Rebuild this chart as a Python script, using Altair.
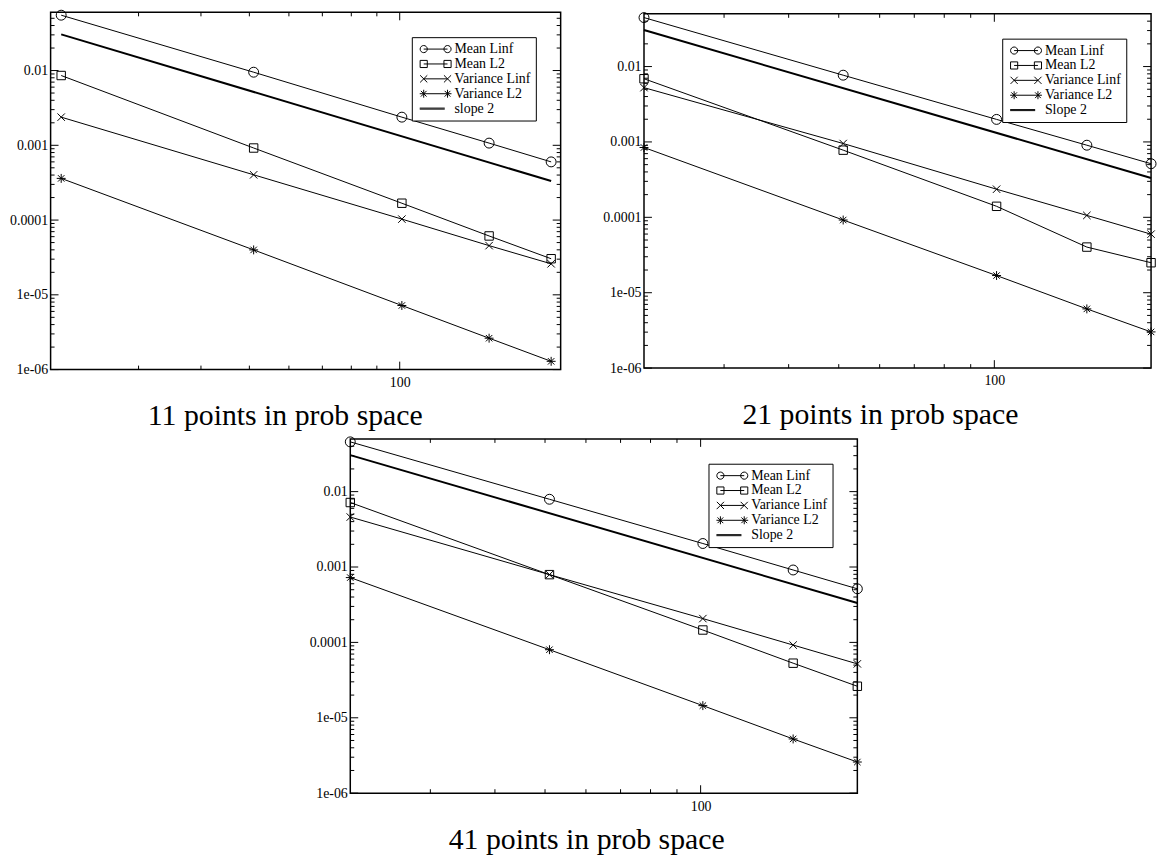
import altair as alt
import pandas as pd

# Grid sizes (number of points in physical space) shared by every panel
N = [21, 51, 101, 151, 201]

# 11 points in probability space
P11_MEAN_LINF = [0.0550, 0.0095, 0.00238, 0.00107, 0.00060]
P11_MEAN_L2 = [0.00858, 0.00092, 0.000168, 0.0000613, 0.0000304]
P11_VAR_LINF = [0.00238, 0.000403, 0.000103, 0.0000455, 0.0000260]
P11_VAR_L2 = [0.000361, 0.0000399, 0.0000072, 0.00000263, 0.00000129]

# 21 points in probability space
P21_MEAN_LINF = [0.0446, 0.00768, 0.00199, 0.000905, 0.000514]
P21_MEAN_L2 = [0.00689, 0.000778, 0.000140, 0.0000403, 0.0000250]
P21_VAR_LINF = [0.00525, 0.000953, 0.000236, 0.000106, 0.0000598]
P21_VAR_L2 = [0.000844, 0.0000921, 0.0000169, 0.0000061, 0.00000302]

# 41 points in probability space
P41_MEAN_LINF = [0.0457, 0.00792, 0.00205, 0.000913, 0.000514]
P41_MEAN_L2 = [0.00717, 0.000792, 0.000146, 0.0000530, 0.0000262]
P41_VAR_LINF = [0.00460, 0.000792, 0.000207, 0.0000922, 0.0000519]
P41_VAR_L2 = [0.000724, 0.0000800, 0.0000145, 0.00000524, 0.00000259]

# Reference line of slope 2
SLOPE_N = [21, 201]
SLOPE_VALUES = [0.0305, 0.000333]

SERIES = ["Mean Linf", "Mean L2", "Variance Linf", "Variance L2"]

# Axis ticks
X_MAJOR = [100]
X_MINOR = [30, 40, 50, 60, 70, 80, 90]
Y_MAJOR = [1e-6, 1e-5, 1e-4, 1e-3, 1e-2]
Y_MAJOR_LABELS = ["1e-06", "1e-05", "0.0001", "0.001", "0.01"]
Y_MINOR = [m * 10.0 ** k for k in range(-6, -1) for m in range(2, 10)]

FONT = "Liberation Serif"

# Marker glyphs
X_PATH = "M-1,-1L1,1M-1,1L1,-1"
STAR_PATH = "M-1,0L1,0M0,-1L0,1M-0.72,-0.72L0.72,0.72M-0.72,0.72L0.72,-0.72"
MARKERS = {
    "Mean Linf": ("circle", 100),
    "Mean L2": ("square", 72),
    "Variance Linf": (X_PATH, 56),
    "Variance L2": (STAR_PATH, 81),
}

# Legend glyphs: marker - line - marker (units of sqrt(symbolSize)/2)
LEGEND_PATHS = [
    "M-0.9,0A0.9,0.9,0,1,0,0.9,0A0.9,0.9,0,1,0,-0.9,0M0,0L6,0"
    "M5.1,0A0.9,0.9,0,1,0,6.9,0A0.9,0.9,0,1,0,5.1,0",
    "M-0.9,-0.9L0.9,-0.9L0.9,0.9L-0.9,0.9ZM0,0L6,0"
    "M5.1,-0.9L6.9,-0.9L6.9,0.9L5.1,0.9Z",
    "M-0.9,-0.9L0.9,0.9M-0.9,0.9L0.9,-0.9M0,0L6,0"
    "M5.1,-0.9L6.9,0.9M5.1,0.9L6.9,-0.9",
    "M-1,0L7,0M0,-1L0,1M-0.72,-0.72L0.72,0.72M-0.72,0.72L0.72,-0.72"
    "M6,-1L6,1M5.28,-0.72L6.72,0.72M5.28,0.72L6.72,-0.72",
    "M-1,-0.13L5.3,-0.13M-1,0.13L5.3,0.13",
]


def y_label_expr():
    parts = []
    for v, lab in zip(Y_MAJOR, Y_MAJOR_LABELS):
        parts.append(f"abs(log(datum.value) - log({v})) < 0.01 ? '{lab}' : ")
    return "".join(parts) + "''"


def make_panel(title, slope_label, series_values, x_domain, y_domain, width, height):
    rows = []
    for name, vals in zip(SERIES, series_values):
        for n, v in zip(N, vals):
            rows.append({"series": name, "n": n, "v": v})
    df = pd.DataFrame(rows)
    slope_df = pd.DataFrame({"n": SLOPE_N, "v": SLOPE_VALUES})

    x_axis = alt.Axis(values=X_MAJOR, format="d", ticks=False, domain=False, grid=False,
                      title=None, labelPadding=6, labelFlush=False)
    y_axis = alt.Axis(values=Y_MAJOR, labelExpr=y_label_expr(), ticks=False, domain=False,
                      grid=False, title=None, labelPadding=3, labelOverlap=False)
    xs = alt.Scale(type="log", domain=x_domain, nice=False)
    ys = alt.Scale(type="log", domain=y_domain, nice=False)

    def X():
        return alt.X("n:Q", scale=xs, axis=x_axis)

    def Y():
        return alt.Y("v:Q", scale=ys, axis=y_axis)

    layers = []
    layers.append(
        alt.Chart(df).mark_line(color="black", strokeWidth=1)
        .encode(x=X(), y=Y(), detail="series:N")
    )
    for name in SERIES:
        shape, size = MARKERS[name]
        layers.append(
            alt.Chart(df).transform_filter(alt.datum.series == name)
            .mark_point(shape=shape, size=size, filled=False, color="black",
                        strokeWidth=1, opacity=1)
            .encode(x=X(), y=Y())
        )
    layers.append(
        alt.Chart(slope_df).mark_line(color="black", strokeWidth=2)
        .encode(x=X(), y=Y())
    )

    # inward tick marks on all four sides
    ymaj = pd.DataFrame({"v": [v for v in Y_MAJOR if y_domain[0] <= v <= y_domain[1]]})
    ymin = pd.DataFrame({"v": [v for v in Y_MINOR if y_domain[0] < v < y_domain[1]]})
    xmaj = pd.DataFrame({"n": X_MAJOR})
    xmin = pd.DataFrame({"n": X_MINOR})
    for data, length in ((ymaj, 8), (ymin, 4)):
        layers.append(alt.Chart(data).mark_rule(color="black", strokeWidth=1)
                      .encode(y=Y(), x=alt.value(0), x2=alt.value(length)))
        layers.append(alt.Chart(data).mark_rule(color="black", strokeWidth=1)
                      .encode(y=Y(), x=alt.value(width), x2=alt.value(width - length)))
    for data, length in ((xmaj, 8), (xmin, 4)):
        layers.append(alt.Chart(data).mark_rule(color="black", strokeWidth=1)
                      .encode(x=X(), y=alt.value(height), y2=alt.value(height - length)))
        layers.append(alt.Chart(data).mark_rule(color="black", strokeWidth=1)
                      .encode(x=X(), y=alt.value(0), y2=alt.value(length)))

    # boxed legend
    labels = SERIES + [slope_label]
    layers.append(
        alt.Chart(pd.DataFrame({"label": labels})).transform_filter("false")
        .mark_point(filled=False, color="black", strokeWidth=1, opacity=1)
        .encode(shape=alt.Shape(
            "label:N",
            scale=alt.Scale(domain=labels, range=LEGEND_PATHS),
            legend=alt.Legend(
                title=None, orient="top-right", offset=25, padding=5,
                strokeColor="black", fillColor="white", cornerRadius=0,
                labelFont=FONT, labelFontSize=14, labelColor="black", labelLimit=0,
                symbolSize=64, symbolStrokeWidth=1, symbolStrokeColor="black",
                symbolFillColor="transparent", symbolOffset=0, labelOffset=24,
                rowPadding=1,
            ),
        ))
    )

    return alt.layer(*layers).properties(
        width=width, height=height,
        title=alt.TitleParams(title, orient="bottom", anchor="middle", frame="bounds",
                              font=FONT, fontSize=30, fontWeight="normal",
                              color="black", offset=12),
    )


p1 = make_panel("11 points in prob space", "slope 2",
                [P11_MEAN_LINF, P11_MEAN_L2, P11_VAR_LINF, P11_VAR_L2],
                [20, 210], [1e-6, 0.06], 514, 360)
p2 = make_panel("21 points in prob space", "Slope 2",
                [P21_MEAN_LINF, P21_MEAN_L2, P21_VAR_LINF, P21_VAR_L2],
                [21, 201], [1e-6, 0.05], 511, 357)
p3 = make_panel("41 points in prob space", "Slope 2",
                [P41_MEAN_LINF, P41_MEAN_L2, P41_VAR_LINF, P41_VAR_L2],
                [21, 201], [1e-6, 0.05], 511, 357)

# empty view that pushes the lower panel towards the middle
spacer = alt.Chart(pd.DataFrame({"a": [0]})).mark_point(opacity=0).encode(
    x=alt.value(0), y=alt.value(0)
).properties(width=258, height=1, view=alt.ViewBackground(stroke="transparent"))

top = alt.hconcat(p1, p2, spacing=39, center=True).resolve_scale(
    x="independent", y="independent", shape="independent")
bottom = alt.hconcat(spacer, p3, spacing=0).resolve_scale(
    x="independent", y="independent", shape="independent")
chart = alt.vconcat(top, bottom, spacing=2).resolve_scale(
    x="independent", y="independent", shape="independent"
).properties(
    padding={"left": 8, "top": 4, "right": 0, "bottom": 0},
    background="white",
).configure_view(
    stroke="black", strokeWidth=1.5
).configure_axis(
    labelFont=FONT, labelFontSize=14, labelColor="black"
)

chart.save("out.html", embed_options={"renderer": "svg", "actions": False})
